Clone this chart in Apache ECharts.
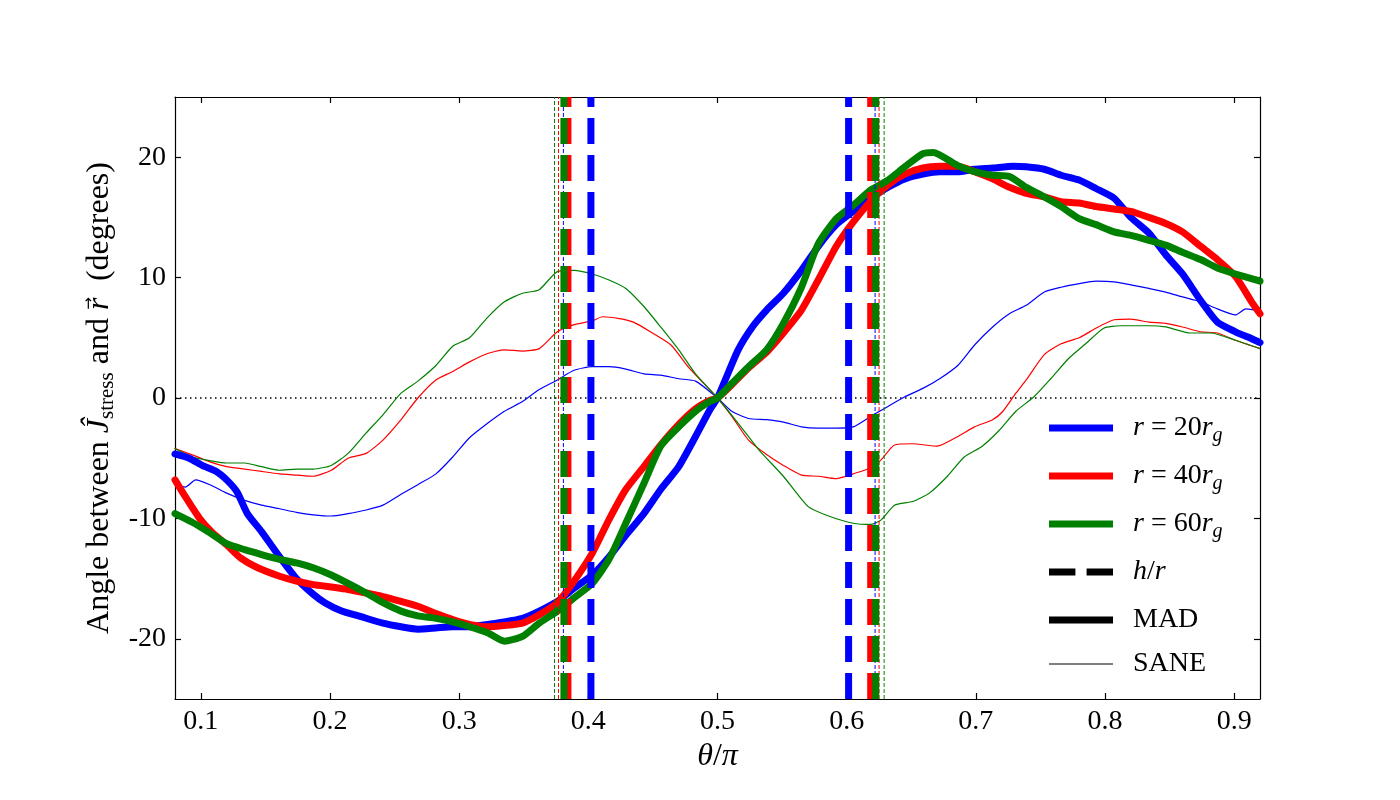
<!DOCTYPE html>
<html>
<head>
<meta charset="utf-8">
<script src="https://cdn.jsdelivr.net/npm/echarts@6/dist/echarts.min.js"></script>
<style>
html, body { margin: 0; padding: 0; background: #fff; }
#chart { width: 1400px; height: 800px; }
</style>
</head>
<body>
<div id="chart"></div>
<script>
const xTicks = [0.1, 0.2, 0.3, 0.4, 0.5, 0.6, 0.7, 0.8, 0.9];
const yTicks = [-20, -10, 0, 10, 20];

// MAD runs (thick lines), [theta/pi, angle in degrees]
const mad20 = [[0.080,-4.65],[0.091,-5.0],[0.101,-5.6],[0.112,-6.1],[0.120,-6.8],[0.128,-7.8],[0.136,-9.6],[0.147,-11.1],[0.161,-13.2],[0.174,-15.0],[0.187,-16.3],[0.196,-17.0],[0.209,-17.7],[0.222,-18.1],[0.241,-18.7],[0.255,-19.0],[0.268,-19.2],[0.282,-19.1],[0.295,-19.0],[0.308,-19.0],[0.322,-18.8],[0.335,-18.6],[0.349,-18.3],[0.362,-17.7],[0.376,-16.9],[0.389,-15.8],[0.403,-14.7],[0.416,-13.2],[0.429,-11.4],[0.443,-9.6],[0.456,-7.6],[0.470,-5.7],[0.483,-3.2],[0.494,-1.0],[0.500,0],
  [0.506,1.5],[0.516,4.0],[0.527,5.9],[0.538,7.3],[0.551,8.7],[0.565,10.6],[0.578,12.6],[0.592,14.4],[0.605,15.5],[0.619,16.6],[0.632,17.5],[0.645,18.2],[0.659,18.6],[0.672,18.8],[0.686,18.8],[0.699,19.0],[0.713,19.1],[0.729,19.25],[0.739,19.2],[0.753,19.0],[0.766,18.5],[0.780,18.1],[0.793,17.4],[0.807,16.6],[0.820,15.0],[0.834,13.7],[0.847,11.9],[0.860,10.3],[0.874,8.1],[0.887,6.3],[0.901,5.5],[0.914,4.9],[0.920,4.6]];
const mad40 = [[0.080,-6.8],[0.088,-8.2],[0.099,-10.0],[0.109,-11.2],[0.120,-12.2],[0.131,-13.3],[0.144,-14.1],[0.161,-14.8],[0.174,-15.2],[0.187,-15.5],[0.201,-15.7],[0.214,-15.9],[0.228,-16.2],[0.241,-16.5],[0.255,-16.9],[0.268,-17.3],[0.282,-17.9],[0.295,-18.4],[0.308,-18.8],[0.322,-19.0],[0.335,-18.9],[0.349,-18.7],[0.362,-18.0],[0.376,-17.0],[0.389,-15.2],[0.403,-12.9],[0.416,-10.1],[0.429,-7.6],[0.443,-5.7],[0.456,-3.9],[0.470,-2.2],[0.483,-0.9],[0.494,-0.2],[0.500,0],
  [0.511,1.1],[0.524,2.5],[0.538,3.8],[0.551,5.4],[0.565,7.3],[0.578,9.8],[0.592,12.6],[0.605,14.6],[0.619,16.4],[0.632,17.7],[0.645,18.6],[0.659,19.1],[0.672,19.25],[0.686,19.25],[0.699,18.8],[0.713,18.2],[0.726,17.5],[0.739,17.0],[0.753,16.7],[0.766,16.3],[0.780,16.2],[0.793,15.9],[0.807,15.7],[0.820,15.5],[0.834,15.0],[0.847,14.5],[0.860,13.8],[0.874,12.6],[0.887,11.5],[0.901,10.1],[0.914,7.9],[0.920,7.0]];
const mad60 = [[0.080,-9.6],[0.093,-10.3],[0.107,-11.2],[0.120,-12.1],[0.134,-12.6],[0.147,-13.0],[0.161,-13.4],[0.174,-13.7],[0.187,-14.1],[0.201,-14.7],[0.214,-15.4],[0.228,-16.2],[0.241,-17.0],[0.255,-17.7],[0.268,-18.1],[0.282,-18.3],[0.295,-18.6],[0.308,-19.0],[0.322,-19.5],[0.335,-20.2],[0.349,-19.8],[0.362,-18.7],[0.376,-17.7],[0.389,-16.6],[0.403,-15.4],[0.416,-13.4],[0.429,-10.4],[0.443,-7.1],[0.456,-4.0],[0.470,-2.4],[0.483,-1.1],[0.494,-0.3],[0.500,0],
  [0.511,1.2],[0.524,2.6],[0.538,4.0],[0.551,6.2],[0.565,9.2],[0.578,12.8],[0.592,14.9],[0.605,16.0],[0.619,17.3],[0.632,18.1],[0.645,19.2],[0.659,20.3],[0.667,20.4],[0.686,19.3],[0.699,18.8],[0.713,18.5],[0.726,18.4],[0.739,17.5],[0.753,16.7],[0.766,15.9],[0.780,14.9],[0.793,14.4],[0.807,13.8],[0.820,13.5],[0.834,13.1],[0.847,12.7],[0.860,12.1],[0.874,11.5],[0.887,10.8],[0.901,10.3],[0.920,9.7]];

// SANE runs (thin lines)
const sane20 = [[0.080,-7.2],[0.088,-7.4],[0.096,-6.8],[0.107,-7.2],[0.120,-7.9],[0.134,-8.5],[0.147,-8.9],[0.161,-9.2],[0.174,-9.5],[0.187,-9.7],[0.201,-9.8],[0.214,-9.6],[0.228,-9.3],[0.241,-8.9],[0.255,-8.0],[0.268,-7.2],[0.282,-6.3],[0.295,-4.9],[0.308,-3.3],[0.322,-2.1],[0.335,-1.1],[0.349,-0.3],[0.362,0.7],[0.376,1.5],[0.389,2.3],[0.403,2.6],[0.416,2.6],[0.429,2.4],[0.443,2.0],[0.456,1.9],[0.470,1.6],[0.483,1.4],[0.500,0],
  [0.511,-1.1],[0.524,-1.7],[0.538,-1.8],[0.551,-2.0],[0.565,-2.4],[0.578,-2.5],[0.592,-2.5],[0.605,-2.4],[0.619,-1.5],[0.632,-0.7],[0.645,0.1],[0.659,0.8],[0.672,1.6],[0.686,2.7],[0.699,4.4],[0.713,5.9],[0.726,7.0],[0.739,7.7],[0.753,8.8],[0.766,9.2],[0.780,9.5],[0.793,9.7],[0.807,9.65],[0.820,9.4],[0.834,9.1],[0.847,8.8],[0.860,8.4],[0.874,8.0],[0.887,7.4],[0.901,6.9],[0.909,7.4],[0.920,7.2]];
const sane40 = [[0.080,-4.2],[0.093,-4.7],[0.107,-5.3],[0.120,-5.7],[0.134,-5.9],[0.147,-6.1],[0.161,-6.3],[0.174,-6.4],[0.187,-6.5],[0.201,-6.0],[0.214,-5.0],[0.228,-4.6],[0.241,-3.5],[0.255,-1.8],[0.268,0.0],[0.282,1.5],[0.295,2.2],[0.308,3.0],[0.322,3.7],[0.335,4.0],[0.349,3.9],[0.362,4.1],[0.376,5.5],[0.389,6.1],[0.403,6.4],[0.411,6.75],[0.424,6.6],[0.435,6.3],[0.448,5.5],[0.464,4.4],[0.478,2.5],[0.500,0],
  [0.511,-1.5],[0.524,-3.5],[0.538,-4.7],[0.551,-5.6],[0.565,-6.4],[0.578,-6.5],[0.592,-6.7],[0.605,-6.3],[0.619,-5.8],[0.627,-5.1],[0.637,-3.9],[0.651,-3.8],[0.670,-4.0],[0.686,-3.2],[0.699,-2.4],[0.713,-1.8],[0.721,-1.1],[0.731,0.4],[0.739,1.5],[0.753,3.6],[0.766,4.5],[0.780,5.0],[0.793,5.8],[0.807,6.5],[0.820,6.55],[0.834,6.3],[0.847,6.2],[0.860,5.9],[0.874,5.5],[0.887,5.4],[0.901,4.8],[0.920,4.1]];
const sane60 = [[0.080,-4.2],[0.093,-4.9],[0.107,-5.2],[0.120,-5.4],[0.134,-5.4],[0.147,-5.7],[0.161,-6.0],[0.174,-5.9],[0.187,-5.9],[0.201,-5.6],[0.214,-4.6],[0.228,-2.9],[0.241,-1.4],[0.255,0.4],[0.268,1.4],[0.282,2.7],[0.295,4.3],[0.308,5.0],[0.322,6.7],[0.335,8.0],[0.349,8.7],[0.362,9.0],[0.376,10.5],[0.389,10.6],[0.403,10.3],[0.416,9.8],[0.429,9.1],[0.443,7.6],[0.456,5.9],[0.470,4.0],[0.483,2.0],[0.500,0],
  [0.516,-2.1],[0.532,-4.3],[0.551,-6.5],[0.570,-9.0],[0.586,-9.8],[0.605,-10.4],[0.619,-10.5],[0.627,-10.1],[0.637,-8.9],[0.651,-8.6],[0.664,-7.9],[0.678,-6.5],[0.691,-4.9],[0.705,-4.0],[0.718,-2.7],[0.731,-1.1],[0.745,0.1],[0.758,1.6],[0.772,3.3],[0.785,4.5],[0.799,5.8],[0.812,6.0],[0.834,6.0],[0.847,5.9],[0.866,5.4],[0.882,5.4],[0.901,4.8],[0.920,4.1]];

// h/r positions (theta/pi) for each run
const hrMad20 = [0.402, 0.6015];
const hrMad40 = [0.3842, 0.6186];
const hrMad60 = [0.3811, 0.6225];
const hrSane20 = [0.3807, 0.622];
const hrSane40 = [0.3769, 0.6251];
const hrSane60 = [0.3738, 0.629];

const BLUE = '#0000ff', RED = '#ff0000', GREEN = '#008000';
const SERIF = 'Liberation Serif';
const FS = 28;
const THICK = 7, THIN = 1.2;
const BIGDASH = [26, 11], SMALLDASH = [4, 2];

const rich = {
    t: {fontFamily: SERIF, fontSize: FS, color: '#000'},
    i: {fontFamily: SERIF, fontSize: FS, fontStyle: 'italic', color: '#000'},
    s: {fontFamily: SERIF, fontSize: 20, fontStyle: 'italic', color: '#000', verticalAlign: 'bottom', lineHeight: 22},
    T: {fontFamily: SERIF, fontSize: 32, color: '#000', lineHeight: 36},
    I: {fontFamily: SERIF, fontSize: 32, fontStyle: 'italic', color: '#000', lineHeight: 36},
    A: {fontFamily: 'DejaVu Sans', fontSize: 15, color: '#000', verticalAlign: 'top', lineHeight: 18, padding: [0, 0, 0, -12]},
    u: {fontFamily: SERIF, fontSize: 21, color: '#000', verticalAlign: 'bottom', lineHeight: 20}
};

function curve(name, data, color, width) {
    return {
        name: name, type: 'line', data: data, symbol: 'none', silent: true,
        smooth: 0.2,
        lineStyle: {color: color, width: width, join: 'round', cap: 'round'}, itemStyle: {color: color}
    };
}

function vlines(xs, color, width, dash) {
    return xs.map(x => ({
        type: 'line', data: [[x, -25], [x, 25]], symbol: 'none', silent: true,
        lineStyle: {color: color, width: width, type: dash}
    }));
}

const legendNames = {
    r20: '{i|r}{t| = 20}{i|r}{s|g}',
    r40: '{i|r}{t| = 40}{i|r}{s|g}',
    r60: '{i|r}{t| = 60}{i|r}{s|g}',
    hr: '{i|h}{t|/}{i|r}',
    MAD: '{t|MAD}',
    SANE: '{t|SANE}'
};

const solidIcon = 'path://M0,0h64v7h-64z';
const dashIcon = 'path://M0,0h26v7h-26z M37,0h26v7h-26z';
const thinIcon = 'path://M0,0h64v1.2h-64z';

const frame = {lineStyle: {color: '#000', width: 1.2}};

const option = {
    animation: false,
    backgroundColor: '#fff',
    grid: {left: 175, right: 140, top: 97, bottom: 101},
    legend: {
        orient: 'vertical', left: 1044, top: 405,
        itemWidth: 64, itemHeight: 16, itemGap: 12,
        selectedMode: false,
        formatter: name => legendNames[name],
        textStyle: {fontFamily: SERIF, fontSize: FS, color: '#000', lineHeight: 36, padding: [0, 0, 0, 15], rich: rich},
        data: [
            {name: 'r20', icon: solidIcon},
            {name: 'r40', icon: solidIcon},
            {name: 'r60', icon: solidIcon},
            {name: 'hr', icon: dashIcon},
            {name: 'MAD', icon: solidIcon},
            {name: 'SANE', icon: thinIcon, textStyle: {lineHeight: 20}}
        ]
    },
    xAxis: [{
        type: 'value', min: 0.08, max: 0.92, position: 'bottom',
        axisLine: {onZero: false, ...frame},
        axisTick: {inside: true, length: 6, customValues: xTicks, ...frame},
        axisLabel: {customValues: xTicks, fontFamily: SERIF, fontSize: FS, color: '#000', margin: 9},
        splitLine: {show: false},
        name: '{I|θ}{T|/}{I|π}', nameLocation: 'middle', nameGap: 36,
        nameTextStyle: {rich: rich}
    }, {
        type: 'value', min: 0.08, max: 0.92, position: 'top',
        axisLine: {onZero: false, ...frame},
        axisTick: {inside: true, length: 6, customValues: xTicks, ...frame},
        axisLabel: {show: false}, splitLine: {show: false}
    }],
    yAxis: [{
        type: 'value', min: -25, max: 25, position: 'left',
        axisLine: {onZero: false, ...frame},
        axisTick: {inside: true, length: 6, customValues: yTicks, ...frame},
        axisLabel: {customValues: yTicks, fontFamily: SERIF, fontSize: FS, color: '#000', margin: 9},
        splitLine: {show: false},
        name: '{T|Angle between }{I|Ĵ}{u|stress}{T| and }{I|r}{A|→}{T|  (degrees)}',
        nameLocation: 'middle', nameGap: 54, nameRotate: 90,
        nameTextStyle: {rich: rich}
    }, {
        type: 'value', min: -25, max: 25, position: 'right',
        axisLine: {onZero: false, ...frame},
        axisTick: {inside: true, length: 6, customValues: yTicks, ...frame},
        axisLabel: {show: false}, splitLine: {show: false}
    }],
    series: [
        {type: 'line', data: [[0.08, 0], [0.92, 0]], symbol: 'none', silent: true,
         lineStyle: {color: '#000', width: 1.5, type: [1.5, 3.5]}},
        curve('SANE20', sane20, BLUE, THIN),
        curve('SANE40', sane40, RED, THIN),
        curve('SANE60', sane60, GREEN, THIN),
        curve('r20', mad20, BLUE, THICK),
        curve('r40', mad40, RED, THICK),
        curve('r60', mad60, GREEN, THICK),
        ...vlines(hrSane60, GREEN, 1, SMALLDASH),
        ...vlines(hrSane40, RED, 1, SMALLDASH),
        ...vlines(hrSane20, BLUE, 1, SMALLDASH),
        ...vlines(hrMad20, BLUE, THICK, BIGDASH),
        ...vlines(hrMad40, RED, THICK, BIGDASH),
        ...vlines(hrMad60, GREEN, THICK, BIGDASH),
        {name: 'hr', type: 'line', data: [], symbol: 'none', lineStyle: {color: '#000', width: THICK}, itemStyle: {color: '#000'}},
        {name: 'MAD', type: 'line', data: [], symbol: 'none', lineStyle: {color: '#000', width: THICK}, itemStyle: {color: '#000'}},
        {name: 'SANE', type: 'line', data: [], symbol: 'none', lineStyle: {color: '#000', width: THIN}, itemStyle: {color: '#000'}}
    ]
};

const myChart = echarts.init(document.getElementById('chart'));
myChart.setOption(option);
</script>
</body>
</html>
